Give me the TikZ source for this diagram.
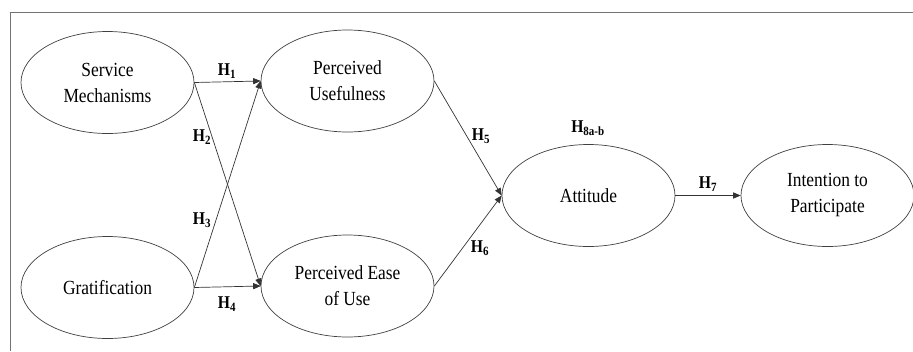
\documentclass[tikz,border=0pt]{standalone}
\usepackage{fontspec}
\setmainfont[FakeStretch=0.87]{Liberation Serif}
\usepackage{tikz}
\usetikzlibrary{arrows}
\usetikzlibrary{shapes.geometric, positioning, calc}

\tikzset{
  construct/.style={ellipse, draw=black!75, line width=0.7pt, minimum width=173pt, minimum height=102pt, inner sep=0pt, align=center, font=\fontsize{20}{26}\selectfont},
  path/.style={draw=black!80, line width=0.7pt, -triangle 45},
  hyp/.style={font=\fontsize{18}{20}\selectfont\bfseries, inner sep=0pt}
}
\newcommand{\hyptext}[1]{H\textsubscript{#1}}

\begin{document}
\begin{tikzpicture}[x=1pt, y=-1pt]
      \useasboundingbox (0, 0) rectangle (913, 351);
      \draw[black!55, line width=0.8pt] (10, 351) -- (10, 12) -- (913, 12);

      \node[construct] (sm) at (107.5, 82.5) {Service\\Mechanisms};
      \node[construct] (gr) at (107.5, 287.5) {Gratification};
      \node[construct] (pu) at (347.5, 81) {Perceived\\Usefulness};
      \node[construct] (pe) at (347.5, 286) {Perceived Ease\\of Use};
      \node[construct] (at) at (588.5, 195.5) {Attitude};
      \begin{scope}
        \clip (0, 0) rectangle (913, 351);
        \node[construct] (in) at (827.5, 195.5) {Intention to\\Participate};
      \end{scope}

      \draw[path] (sm.east) -- (pu.west);
      \draw[path] (sm.east) -- (pe.west);
      \draw[path] (gr.east) -- (pu.west);
      \draw[path] (gr.east) -- (pe.west);
      \draw[path] (pu.east) -- (at.west);
      \draw[path] (pe.east) -- (at.west);
      \draw[path] (at.east) -- (in.west);

      \node[hyp] (h1) at (227, 71) {\hyptext{1}};
      \node[hyp] (h2) at (202, 137) {\hyptext{2}};
      \node[hyp] (h3) at (202, 220) {\hyptext{3}};
      \node[hyp] (h4) at (227, 304) {\hyptext{4}};
      \node[hyp] (h5) at (481, 136) {\hyptext{5}};
      \node[hyp] (h6) at (480, 248) {\hyptext{6}};
      \node[hyp] (h7) at (708, 184) {\hyptext{7}};
      \node[hyp] (h8) at (588, 128) {\hyptext{8a-b}};

    \end{tikzpicture}
\end{document}
